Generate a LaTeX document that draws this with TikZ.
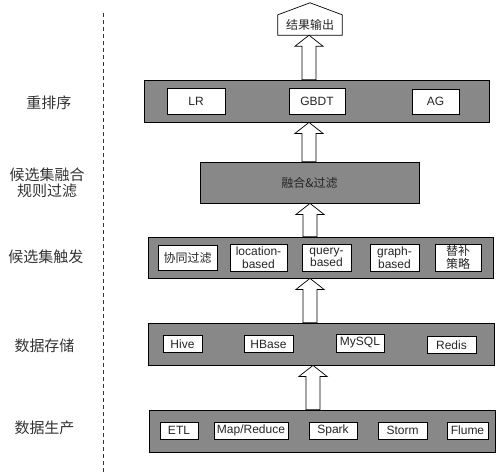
\documentclass[tikz,border=0pt]{standalone}
\usepackage{fontspec}
\setmainfont{Liberation Sans}
\newfontfamily\cjk{Noto Sans CJK SC}
\usetikzlibrary{calc}
\definecolor{layergray}{HTML}{888888}
\definecolor{labelgray}{HTML}{333333}

\tikzset{
  layer/.style={draw, fill=layergray, line width=0.8pt, inner sep=0pt},
  item/.style={draw, fill=white, line width=0.7pt, inner sep=0pt, align=center,
    text=black!85, font=\fontsize{12}{12.5}\selectfont},
  level/.style={align=center, text=labelgray, font=\cjk\fontsize{15}{16}\selectfont},
}

% block arrow: #1 = x, #2 = lower node, #3 = upper node
\newcommand{\blockarrow}[3]{%
  \draw[fill=white, line width=0.7pt] let \p1=(#2.north), \p2=(#3.south), \p3=(#1,0) in
    (\x3-7pt,\y1) -- (\x3-7pt,\y2-11pt) -- (\x3-14pt,\y2-11pt) -- (\x3,\y2)
    -- (\x3+14pt,\y2-11pt) -- (\x3+7pt,\y2-11pt) -- (\x3+7pt,\y1) -- cycle;
}

\begin{document}
\begin{tikzpicture}[x=1pt, y=-1pt]
\useasboundingbox (0,0) rectangle (496,472);

%   labels | layers
%  ---------+---------------------------
%  rerank   |  [LR  GBDT  AG]
%  fusion   |    [merge & filter]
%  trigger  |  [cf loc query graph fill]
%  storage  |  [Hive HBase MySQL Redis]
%  produce  |  [ETL MR Spark Storm Flume]
\coordinate (dtop) at (103,13);
\coordinate (dbot) at (103,472);
\draw[dash pattern=on 4pt off 3pt, line width=0.7pt, labelgray] (dtop) -- (dbot);

\node[level] (lrerank)  at (49,103)   {\cjk 重排序};
\node[level] (lfusion)  at (47,183)   {候选集融合\\规则过滤};
\node[level] (ltrigger) at (46,257)   {候选集触发};
\node[level] (lstorage) at (44.5,346) {数据存储};
\node[level] (lproduce) at (44.5,428) {数据生产};

% output
\node[minimum width=64pt, minimum height=20pt, inner sep=0pt, text=black!85,
  font=\cjk\fontsize{12}{12.5}\selectfont] (output) at (310,25) {结果输出};
\draw[line width=0.7pt] (output.south west) -- (output.north west) -- ([yshift=12pt]output.north)
  -- (output.north east) -- (output.south east) -- cycle;

% rerank
\node[layer, minimum width=345pt, minimum height=42pt] (rerank) at (316.5,101) {};
\node[item, minimum width=58pt, minimum height=26pt] (lr)   at (196,101)   {LR};
\node[item, minimum width=56pt, minimum height=26pt] (gbdt) at (317,101)   {GBDT};
\node[item, minimum width=47pt, minimum height=25pt] (ag)   at (435.5,101.5) {AG};

% fusion
\node[layer, minimum width=219pt, minimum height=41pt, text=black!85,
  font=\cjk\fontsize{12}{12.5}\selectfont] (fusion) at (309.5,182.5) {融合\&过滤};

% trigger
\node[layer, minimum width=345pt, minimum height=41pt] (trigger) at (320.5,257.5) {};
\node[item, minimum width=59pt, minimum height=25pt, font=\cjk\fontsize{12}{12.5}\selectfont] (cf) at (187.5,257.5) {协同过滤};
\node[item, minimum width=57pt, minimum height=27pt] (loc)   at (258.5,257.5) {location-\\based};
\node[item, minimum width=49pt, minimum height=27pt] (query) at (326.5,257.5) {query-\\based};
\node[item, minimum width=49pt, minimum height=27pt] (graph) at (394.5,257.5) {graph-\\based};
\node[item, minimum width=46pt, minimum height=27pt, font=\cjk\fontsize{12}{12.5}\selectfont] (backup) at (458,257.5) {替补\\策略};

% storage
\node[layer, minimum width=346pt, minimum height=42pt] (storage) at (321,344) {};
\node[item, minimum width=39pt, minimum height=17pt] (hive)  at (182.5,344) {Hive};
\node[item, minimum width=49pt, minimum height=17pt] (hbase) at (268.5,344) {HBase};
\node[item, minimum width=48pt, minimum height=18pt] (mysql) at (360,343)   {MySQL};
\node[item, minimum width=49pt, minimum height=17pt] (redis) at (451.5,345) {Redis};

% production
\node[layer, minimum width=346pt, minimum height=42pt] (produce) at (322,431) {};
\node[item, minimum width=38pt, minimum height=17pt] (etl)   at (179,430.5)   {ETL};
\node[item, minimum width=74pt, minimum height=17pt] (mr)    at (251,430.5)   {Map/Reduce};
\node[item, minimum width=48pt, minimum height=17pt] (spark) at (333,430.5)   {Spark};
\node[item, minimum width=49pt, minimum height=17pt] (storm) at (402.5,430.5) {Storm};
\node[item, minimum width=41pt, minimum height=17pt] (flume) at (467.5,430.5) {Flume};

\blockarrow{309}{rerank}{output}
\blockarrow{309}{fusion}{rerank}
\blockarrow{310}{trigger}{fusion}
\blockarrow{310}{storage}{trigger}
\blockarrow{313}{produce}{storage}
\end{tikzpicture}
\end{document}
